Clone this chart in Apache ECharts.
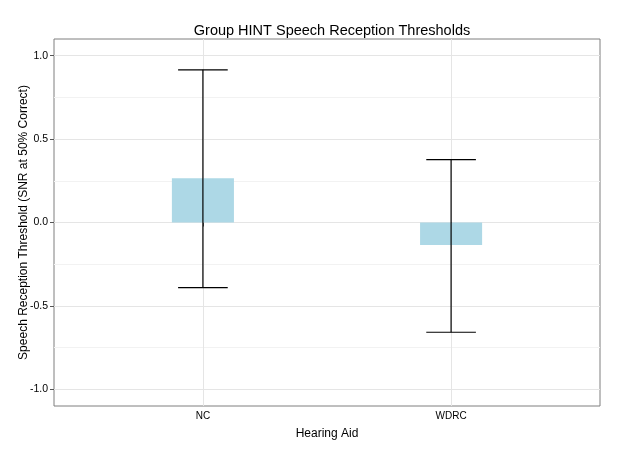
<!DOCTYPE html>
<html>
<head>
    <meta charset="utf-8">
    <title>Group HINT Speech Reception Thresholds</title>
    <script src="https://cdn.jsdelivr.net/npm/echarts@6/dist/echarts.min.js"></script>
</head>
<body style="margin:0">
<div id="chart" style="width: 620px; height: 451px;"></div>
<script>
    // 数据
    var categories = ['NC', 'WDRC'];
    var means = [0.265, -0.135];
    var upper = [0.915, 0.377];
    var lower = [-0.39, -0.658];
    var yMajor = [-1, -0.5, 0, 0.5, 1];
    var yMinor = [-0.75, -0.25, 0.25, 0.75];

    var font = 'Liberation Sans, Arial, sans-serif';
    var barData = categories.map(function (c, i) { return [i + 1, means[i]]; });
    var errData = categories.map(function (c, i) { return [i + 1, lower[i], upper[i]]; });

    var chart = echarts.init(document.getElementById('chart'));

    function renderBar(params, api) {
        var x = api.value(0), v = api.value(1);
        var p0 = api.coord([x - 0.125, 0]);
        var p1 = api.coord([x + 0.125, v]);
        return {
            type: 'rect',
            shape: {x: p0[0], y: Math.min(p0[1], p1[1]), width: p1[0] - p0[0], height: Math.abs(p1[1] - p0[1])},
            style: {fill: '#ADD8E6'}
        };
    }

    function renderErr(params, api) {
        var x = api.value(0);
        var lo = api.coord([x, api.value(1)]);
        var hi = api.coord([x, api.value(2)]);
        var half = api.size([0.1, 0])[0];
        var st = {stroke: '#000', lineWidth: 1.2};
        return {
            type: 'group',
            children: [
                {type: 'line', shape: {x1: lo[0], y1: lo[1], x2: hi[0], y2: hi[1]}, style: st},
                {type: 'line', shape: {x1: lo[0] - half, y1: lo[1], x2: lo[0] + half, y2: lo[1]}, style: st},
                {type: 'line', shape: {x1: hi[0] - half, y1: hi[1], x2: hi[0] + half, y2: hi[1]}, style: st}
            ]
        };
    }

    var option = {
        backgroundColor: '#fff',
        animation: false,
        title: {
            text: 'Group HINT Speech Reception Thresholds',
            left: 327, textAlign: 'center', top: 18,
            textStyle: {fontFamily: font, fontSize: 14.5, fontWeight: 'normal', color: '#000'}
        },
        grid: {left: 54, top: 39, right: 20, bottom: 45, show: true, borderColor: '#7f7f7f', borderWidth: 1},
        xAxis: {
            type: 'value', min: 0.4, max: 2.6,
            name: 'Hearing Aid', nameLocation: 'middle', nameGap: 22, nameMoveOverlap: false,
            nameTextStyle: {fontFamily: font, fontSize: 12, color: '#000'},
            axisLine: {show: false},
            axisTick: {show: true, customValues: [1, 2], length: 4, lineStyle: {color: '#555'}},
            axisLabel: {customValues: [1, 2], margin: 5, fontFamily: font, fontSize: 10, color: '#000',
                formatter: function (v) { return categories[Math.round(v) - 1]; }},
            splitLine: {show: true, lineStyle: {color: '#e5e5e5', width: 1}}
        },
        yAxis: [{
            type: 'value', min: -1.1, max: 1.1,
            name: 'Speech Reception Threshold (SNR at 50% Correct)', nameLocation: 'middle', nameGap: 24,
            nameMoveOverlap: false,
            nameTextStyle: {fontFamily: font, fontSize: 12, color: '#000'},
            axisLine: {show: false},
            axisTick: {show: true, customValues: yMajor, length: 4, lineStyle: {color: '#555'}},
            axisLabel: {customValues: yMajor, margin: 6, fontFamily: font, fontSize: 10.5, color: '#000',
                formatter: function (v) { return v.toFixed(1); }},
            splitLine: {show: true, lineStyle: {color: '#e5e5e5', width: 1}}
        }, {
            type: 'value', min: -1.1, max: 1.1, position: 'left',
            axisLine: {show: false},
            axisTick: {show: false, customValues: yMinor},
            axisLabel: {show: false, customValues: yMinor},
            splitLine: {show: true, lineStyle: {color: '#f2f2f2', width: 1}}
        }],
        series: [
            {type: 'custom', renderItem: renderBar, data: barData, z: 2},
            {type: 'custom', renderItem: renderErr, data: errData, z: 3}
        ]
    };
    chart.setOption(option);
</script>
</body>
</html>
